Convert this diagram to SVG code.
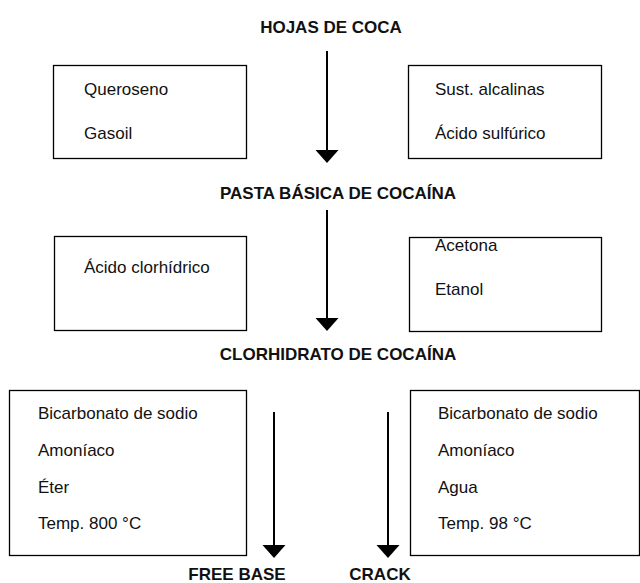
<svg xmlns="http://www.w3.org/2000/svg" width="640" height="583" viewBox="0 0 640 583">
<style>
.box{fill:#fff;stroke:#000;stroke-width:1.3}
.t{font-family:"Liberation Sans",Arial,sans-serif;font-size:17px;fill:#111}
.h{font-family:"Liberation Sans",Arial,sans-serif;font-size:17px;font-weight:bold;fill:#111;text-anchor:middle}
.c{stroke:#000;stroke-width:2;fill:none}
</style>
<g id="title-hojas"><text class="h" x="331" y="33">HOJAS DE COCA</text></g>
<g id="title-pasta"><text class="h" x="338" y="199">PASTA BÁSICA DE COCAÍNA</text></g>
<g id="title-clorhidrato"><text class="h" x="338" y="360">CLORHIDRATO DE COCAÍNA</text></g>
<g id="title-freebase"><text class="h" x="237" y="580">FREE BASE</text></g>
<g id="title-crack"><text class="h" x="380" y="580">CRACK</text></g>
<g id="box1">
<rect class="box" x="53.5" y="65.5" width="193" height="93"/>
<text class="t" x="84" y="95">Queroseno</text>
<text class="t" x="84" y="139">Gasoil</text>
</g>
<g id="box2">
<rect class="box" x="408.5" y="65.5" width="193" height="93"/>
<text class="t" x="435" y="95">Sust. alcalinas</text>
<text class="t" x="435" y="139">Ácido sulfúrico</text>
</g>
<g id="box3">
<rect class="box" x="54.5" y="236.5" width="192" height="94"/>
<text class="t" x="84" y="273">Ácido clorhídrico</text>
</g>
<g id="box4">
<rect class="box" x="409.5" y="237.5" width="192" height="94"/>
<text class="t" x="435" y="251">Acetona</text>
<text class="t" x="435" y="295">Etanol</text>
</g>
<g id="box5">
<rect class="box" x="9.5" y="390.5" width="237" height="165"/>
<text class="t" x="38" y="419">Bicarbonato de sodio</text>
<text class="t" x="38" y="456">Amoníaco</text>
<text class="t" x="38" y="493">Éter</text>
<text class="t" x="38" y="529">Temp. 800 °C</text>
</g>
<g id="box6">
<rect class="box" x="410.5" y="390.5" width="229" height="165"/>
<text class="t" x="438" y="419">Bicarbonato de sodio</text>
<text class="t" x="438" y="456">Amoníaco</text>
<text class="t" x="438" y="493">Agua</text>
<text class="t" x="438" y="529">Temp. 98 °C</text>
</g>
<g id="connectors">
<path class="c" d="M327,51 V152"/><path d="M315.5,150 H338.5 L327,163 Z"/>
<path class="c" d="M327,210 V320"/><path d="M315.5,318 H338.5 L327,331 Z"/>
<path class="c" d="M274,412 V547"/><path d="M262.5,545 H285.5 L274,558 Z"/>
<path class="c" d="M388,412 V547"/><path d="M376.5,545 H399.5 L388,558 Z"/>
</g>
</svg>
